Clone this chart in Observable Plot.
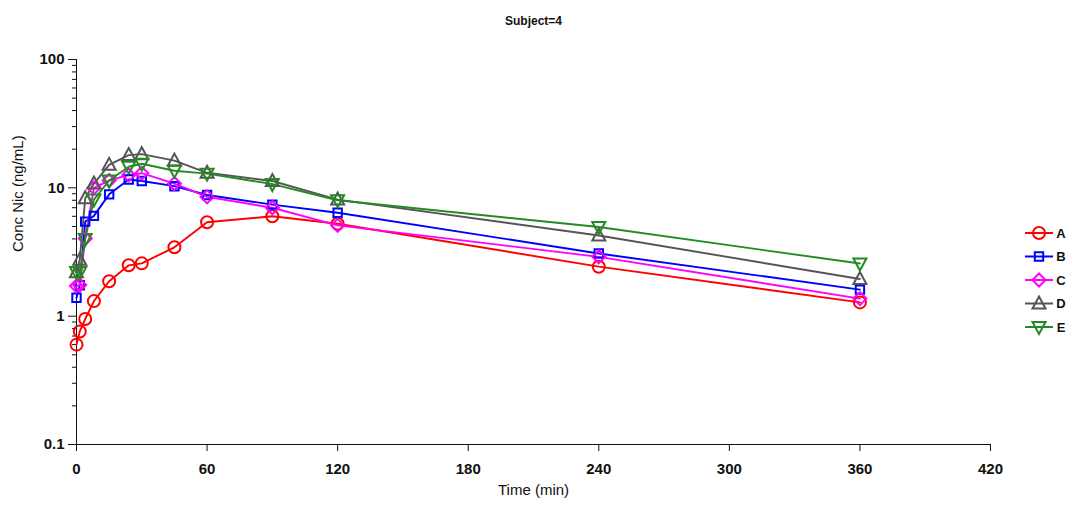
<!DOCTYPE html>
<html>
<head>
<meta charset="utf-8">
<script src="https://cdn.jsdelivr.net/npm/d3@7"></script>
<script src="https://cdn.jsdelivr.net/npm/@observablehq/plot@0.6"></script>
<style>
  html, body { margin: 0; padding: 0; background: #fff; }
  #chart { width: 1073px; height: 509px; }
  #chart g[aria-label="y-axis tick label"] text,
  #chart g[aria-label="x-axis tick label"] text { font-weight: bold; }
</style>
</head>
<body>
<div id="chart"></div>
<script>
// ---- data ----
const times = [0, 1.5, 4, 8, 15, 24, 30, 45, 60, 90, 120, 240, 360];
const seriesNames = ["A", "B", "C", "D", "E"];
const concA = [0.60, 0.76, 0.95, 1.31, 1.87, 2.49, 2.58, 3.44, 5.39, 6.0, 5.25, 2.43, 1.28];
const concB = [1.39, 1.74, 5.45, 6.05, 8.9, 11.6, 11.3, 10.3, 8.8, 7.4, 6.4, 3.08, 1.61];
const concC = [1.72, 1.75, 4.02, 10.0, 11.4, 12.6, 13.0, 10.8, 8.5, 7.0, 5.1, 2.9, 1.37];
const concD = [2.2, 2.75, 8.3, 10.8, 15.1, 18.0, 18.3, 16.3, 13.1, 11.3, 8.1, 4.25, 1.95];
const concE = [2.21, 2.21, 4.0, 8.1, 11.4, 14.6, 15.4, 13.6, 12.9, 10.7, 8.0, 4.95, 2.57];
const yMajorTicks = [0.1, 1, 10, 100];
const xTicks = [0, 60, 120, 180, 240, 300, 360, 420];
const titleText = "Subject=4";
const xLabel = "Time (min)";
const yLabel = "Conc Nic (ng/mL)";

// ---- styles ----
const colors = ["#ff0000", "#0000ff", "#ff00ff", "#555555", "#228b22"];
const symbolOf = {
  A: "circle",
  B: { draw(c) { c.moveTo(-4.2, -4.2); c.lineTo(4.2, -4.2); c.lineTo(4.2, 4.2); c.lineTo(-4.2, 4.2); c.closePath(); } },
  C: { draw(c) { c.moveTo(0, -6.5); c.lineTo(6.5, 0); c.lineTo(0, 6.5); c.lineTo(-6.5, 0); c.closePath(); } },
  D: { draw(c) { c.moveTo(0, -7); c.lineTo(6.5, 5); c.lineTo(-6.5, 5); c.closePath(); } },
  E: { draw(c) { c.moveTo(0, 7); c.lineTo(6.5, -5); c.lineTo(-6.5, -5); c.closePath(); } }
};

const allConc = [concA, concB, concC, concD, concE];
const rows = seriesNames.flatMap((s, i) => times.map((t, j) => ({ time: t, conc: allConc[i][j], series: s })));

const minorTicks = [];
for (const base of [0.1, 1, 10]) for (let k = 2; k <= 9; k++) minorTicks.push(+(base * k).toPrecision(3));

const dotMarks = seriesNames.map((s, i) =>
  Plot.dot(rows.filter(d => d.series === s), {
    x: "time", y: "conc", symbol: symbolOf[s], r: 6,
    stroke: colors[i], strokeWidth: 2, fill: "none"
  })
);

const chart = Plot.plot({
  width: 1073,
  height: 509,
  marginLeft: 76,
  marginRight: 83,
  marginTop: 59,
  marginBottom: 65,
  style: { fontFamily: "'Liberation Sans', Arial, sans-serif", fontSize: "15px", color: "#111", background: "#fff" },
  x: { domain: [0, 420] },
  y: { type: "log", domain: [0.1, 100] },
  color: { domain: seriesNames, range: colors },
  marks: [
    Plot.axisY({ ticks: minorTicks, tickSize: 4, tickFormat: () => "", label: null, stroke: "#111" }),
    Plot.axisY({ ticks: yMajorTicks, tickSize: 8, tickPadding: 4, tickFormat: d => String(d), label: null, fontSize: 15, stroke: "#111" }),
    Plot.axisX({ ticks: xTicks, tickSize: 7, tickPadding: 12, label: null, fontSize: 15, stroke: "#111" }),
    Plot.ruleX([0], { stroke: "#111" }),
    Plot.ruleY([0.1], { stroke: "#111" }),
    Plot.line(rows, { x: "time", y: "conc", z: "series", stroke: "series", strokeWidth: 1.9 }),
    ...dotMarks,
    Plot.text([titleText], { frameAnchor: "top", dy: -43, fontSize: 12, fontWeight: "bold" }),
    Plot.text([xLabel], { frameAnchor: "bottom", dy: 50, fontSize: 15 }),
    Plot.text([yLabel], { frameAnchor: "left", dx: -58, rotate: -90, fontSize: 15 })
  ]
});

document.getElementById("chart").appendChild(chart);

// ---- legend (drawn into the same SVG) ----
const svg = d3.select(chart.tagName.toLowerCase() === "svg" ? chart : chart.querySelector("svg"));
const lg = svg.append("g").attr("class", "legend");
const lx0 = 1025, lx1 = 1053, ly0 = 233, lstep = 23.5;
const symPath = {
  A: d3.symbol(d3.symbolCircle, Math.PI * 36)(),
  B: "M-4.2,-4.2L4.2,-4.2L4.2,4.2L-4.2,4.2Z",
  C: "M0,-6.5L6.5,0L0,6.5L-6.5,0Z",
  D: "M0,-7L6.5,5L-6.5,5Z",
  E: "M0,7L6.5,-5L-6.5,-5Z"
};
seriesNames.forEach((s, i) => {
  const y = ly0 + i * lstep;
  const g = lg.append("g");
  g.append("line").attr("x1", lx0).attr("x2", lx1).attr("y1", y).attr("y2", y)
    .attr("stroke", colors[i]).attr("stroke-width", 2);
  g.append("path").attr("d", symPath[s]).attr("transform", `translate(${(lx0 + lx1) / 2},${y})`)
    .attr("fill", "none").attr("stroke", colors[i]).attr("stroke-width", 2);
  g.append("text").attr("x", 1061).attr("y", y).attr("dy", "0.35em")
    .attr("font-size", 13).attr("font-weight", "bold").attr("fill", "#111").text(s);
});
</script>
</body>
</html>
